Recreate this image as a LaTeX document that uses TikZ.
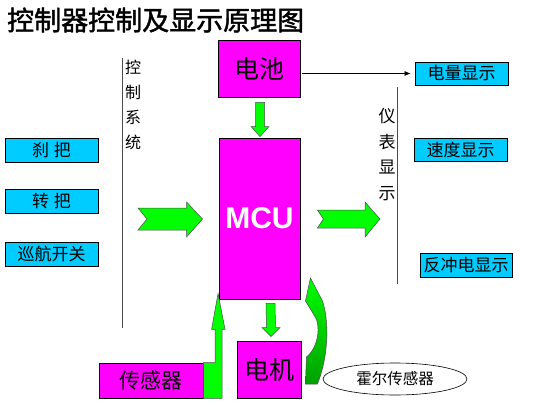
\documentclass[tikz,border=0pt]{standalone}
\usepackage{fontspec}
\newfontfamily\cjk{Noto Sans CJK SC}
\newfontfamily\cjktitle[FakeBold=1.5]{Noto Sans CJK SC}
\setsansfont{Liberation Sans}
\usetikzlibrary{calc,shapes.geometric,arrows.meta}
\definecolor{mag}{RGB}{255,0,255}
\definecolor{cya}{RGB}{0,204,255}
\definecolor{grn}{RGB}{0,255,0}
\definecolor{dgrn}{RGB}{0,160,0}
\begin{document}
\begin{tikzpicture}[x=1pt,y=-1pt,
  magbox/.style={draw=black,line width=0.9pt,fill=mag,inner sep=0pt,font=\cjk\fontsize{25}{25}\selectfont},
  cyabox/.style={draw=black,line width=0.9pt,fill=cya,inner sep=0pt,minimum width=93,minimum height=24,font=\cjk\fontsize{17}{17}\selectfont},
  garrow/.style={draw=black!70,line width=0.5pt,fill=grn},
  vlabel/.style={align=center,inner sep=0pt,font=\cjk\fontsize{16}{25}\selectfont},
  sideline/.style={draw=black!70,line width=0.9pt}]
\useasboundingbox (0,0) rectangle (546,415);
\fill[white] (0,0) rectangle (546,415);
% title
\node[anchor=west,inner sep=0pt,font=\cjktitle\fontsize{27}{27}\selectfont] (title) at (7,20) {控制器控制及显示原理图};
% main boxes
\node[magbox,minimum width=82,minimum height=57] (bat) at (259,68.5) {电池};
\node[magbox,minimum width=81,minimum height=161,text=white,font=\sffamily\bfseries\fontsize{30}{30}\selectfont] (mcu) at (259.5,218.5) {MCU};
\node[magbox,minimum width=64,minimum height=57] (motor) at (269,369.5) {电机};
\node[magbox,minimum width=104,minimum height=35,font=\cjk\fontsize{21}{21}\selectfont] (sensor) at (151,380.5) {传感器};
% left inputs
\node[cyabox] (brake) at (51.5,150) {刹\hspace{5pt}把};
\node[cyabox] (throttle) at (51.5,201.5) {转\hspace{5pt}把};
\node[cyabox] (cruise) at (51.5,254) {巡航开关};
% right displays
\node[cyabox,minimum height=23] (elec) at (461.5,73.5) {电量显示};
\node[cyabox,minimum height=23] (speed) at (460.5,149.5) {速度显示};
\node[cyabox,minimum width=92] (regen) at (466,265) {反冲电显示};
% hall sensor
\node[ellipse,draw=black,line width=0.6pt,minimum width=144,minimum height=32,inner sep=0pt,font=\cjk\fontsize{15.5}{15.5}\selectfont] (hall) at (395,379) {霍尔传感器};
% side lines and labels
\coordinate (l1) at (122,58);
\coordinate (l2) at (122,328);
\draw[sideline] (l1) -- (l2);
\node[vlabel] (ctrl) at (133,104.5) {控\\制\\系\\统};
\coordinate (r1) at (397,87);
\coordinate (r2) at (397,284);
\draw[sideline] (r1) -- (r2);
\node[vlabel,font=\cjk\fontsize{17}{25.5}\selectfont] (disp) at (387,154.5) {仪\\表\\显\\示};
% battery -> electricity display
\draw[line width=0.6pt,-{Latex[length=6pt,width=5pt]}] ($(bat.east|-elec.west)+(2,0)$) -- ($(elec.west)+(-4,0)$);
% battery -> MCU green arrow
\coordinate (ba) at ($(bat.south)+(1,5)$);
\coordinate (bt) at ($(mcu.north)+(0.5,-1)$);
\draw[garrow] ($(ba)+(-4.5,0)$) -- ($(ba)+(4.5,0)$) -- ($(bt)+(4.5,-10)$) -- ($(bt)+(9,-10)$) -- (bt) -- ($(bt)+(-9,-10)$) -- ($(bt)+(-4.5,-10)$) -- cycle;
% MCU -> motor green arrow
\coordinate (ma) at ($(mcu.south)+(11,4)$);
\coordinate (mt) at ($(motor.north)+(2,-4)$);
\draw[garrow] ($(ma)+(-4.5,0)$) -- ($(ma)+(4.5,0)$) -- ($(mt)+(4.5,-9)$) -- ($(mt)+(9,-9)$) -- (mt) -- ($(mt)+(-9,-9)$) -- ($(mt)+(-4.5,-9)$) -- cycle;
% inputs -> MCU green arrow
\coordinate (la) at (138,219);
\coordinate (lt) at ($(mcu.west)+(-16,0.5)$);
\draw[garrow] ($(la)+(0,-11)$) -- ($(lt)+(-16,-11)$) -- ($(lt)+(-16,-17)$) -- (lt) -- ($(lt)+(-16,18)$) -- ($(lt)+(-16,11)$) -- ($(la)+(0,11)$) -- ($(la)+(9,0)$) -- cycle;
% MCU -> displays green arrow
\coordinate (ra) at ($(mcu.east)+(17,0.5)$);
\coordinate (rt) at ($(r1|-ra)+(-17,0)$);
\draw[garrow] ($(ra)+(0,-9)$) -- ($(rt)+(-15,-9)$) -- ($(rt)+(-15,-17)$) -- (rt) -- ($(rt)+(-15,18)$) -- ($(rt)+(-15,9)$) -- ($(ra)+(0,9)$) -- ($(ra)+(6,0)$) -- cycle;
% sensor -> MCU bent arrow
\coordinate (st) at ($(mcu.south west)+(-0.5,-6)$);
\draw[garrow] (sensor.north east) -- ($(st|-sensor.north)+(-3,0)$) -- ($(st)+(-3,36)$) -- ($(st)+(-6.5,36)$) -- (st) -- ($(st)+(7,36)$) -- ($(st)+(4,36)$) -- ($(st|-sensor.south)+(4,0)$) -- (sensor.south east) -- cycle;
% motor -> MCU curved arrow
\coordinate (ct) at ($(mcu.east)+(10,59.5)$);
\draw[draw=black!70,line width=0.5pt,top color=grn,bottom color=dgrn]
  ($(motor.east)+(4,14.5)$) -- ($(motor.east)+(5,-12.5)$)
  .. controls (318,348) and (322,325) .. ($(ct)+(3,36)$)
  -- ($(ct)+(-5,23)$) -- (ct) -- ($(ct)+(12,23)$)
  .. controls (329,320) and (329,355) .. ($(motor.east)+(16,14.5)$) -- cycle;
\end{tikzpicture}
\end{document}
